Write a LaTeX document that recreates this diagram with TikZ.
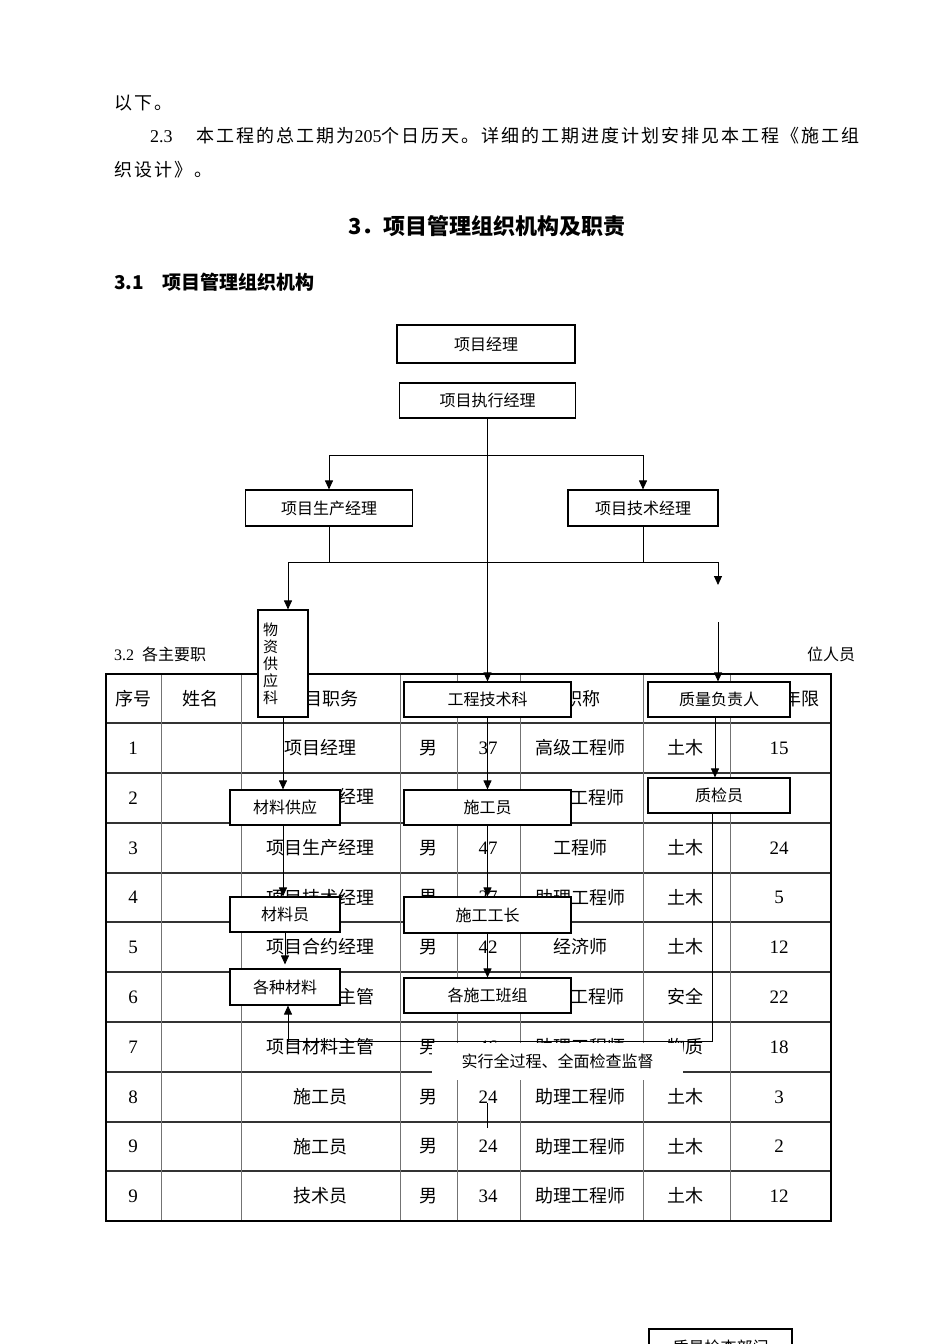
\documentclass[tikz,border=0pt]{standalone}
\usepackage{fontspec}
\setmainfont{Liberation Serif}
\newfontfamily\cjk{Noto Sans CJK SC}
\newfontfamily\cjkwide{Noto Sans CJK SC}[LetterSpace=11]
\usetikzlibrary{arrows.meta, positioning}

\begin{document}
\begin{tikzpicture}[x=1pt, y=-1pt,
  box/.style={draw, line width=1.1pt, fill=white, inner sep=0pt,
    font=\cjk\fontsize{16}{18}\selectfont},
  link/.style={line width=0.9pt},
  arr/.style={link, -{Triangle[width=8pt,length=9pt]}},
  zh/.style={inner sep=0pt, font=\cjk\fontsize{18}{20}\selectfont},
  num/.style={inner sep=0pt, font=\fontsize{19}{21}\selectfont},
  body/.style={anchor=west, inner sep=0pt, font=\cjkwide\fontsize{18}{20}\selectfont},
  rowline/.style={black!80, line width=1.1pt},
  colline/.style={black!55, line width=0.8pt}]
  \useasboundingbox (0,0) rectangle (950,1344);
  \clip (0,0) rectangle (950,1344);

  % Text above the chart
  \node[body] (l1) at (114,103) {以下。};
  \node[body] (l2) at (150,136) {{\rmfamily 2.3}\hspace{24pt}本工程的总工期为{\rmfamily 205}个日历天。详细的工期进度计划安排见本工程《施工组};
  \node[body] (l3) at (114,170) {织设计》。};
  \node[font=\cjk\bfseries\fontsize{22}{24}\selectfont] (h3) at (487,226) {3．项目管理组织机构及职责};
  \node[body, font=\cjk\bfseries\fontsize{19}{21}\selectfont] (h31) at (114,282) {3.1\hspace{18pt}项目管理组织机构};
  \node[body, font=\cjk\fontsize{16}{18}\selectfont] (h32) at (114,654) {{\rmfamily 3.2}\hspace{8pt}各主要职};
  \node[body, font=\cjk\fontsize{16}{18}\selectfont] (h32r) at (807,654) {位人员};

  % Staff table
  \foreach \y in {723,773,823,873,922,972,1022,1072,1122,1171}
    \draw[rowline] (106,\y) -- (831,\y);
  \foreach \x in {161,241,400,457,520,643,730}
    \draw[colline] (\x,674) -- (\x,1221);
  \draw[line width=1.8pt] (106,674) rectangle (831,1221);

  \node[zh] (hd1) at (133,698.5) {序号};
  \node[zh] (hd2) at (200,698.5) {姓名};
  \node[zh] (hd3) at (322,698.5) {项目职务};
  \node[zh] (hd6) at (582,698.5) {职称};
  \node[zh] (hd8) at (801,698.5) {年限};
  \foreach \y/\n/\job/\sex/\age/\tit/\maj/\yr [count=\i] in {
      748/1/项目经理/男/37/高级工程师/土木/15,
      848/3/项目生产经理/男/47/工程师/土木/24,
      897.5/4/项目技术经理/男/27/助理工程师/土木/5,
      947/5/项目合约经理/男/42/经济师/土木/12,
      1047/7/项目材料主管/男/46/助理工程师/物质/18,
      1097/8/施工员/男/24/助理工程师/土木/3,
      1146.5/9/施工员/男/24/助理工程师/土木/2,
      1196/9/技术员/男/34/助理工程师/土木/12}{
    \node[num] (no\i) at (133,\y) {\n};
    \node[zh] (job\i) at (320,\y) {\job};
    \node[zh] (sex\i) at (428,\y) {\sex};
    \node[num] (age\i) at (488,\y) {\age};
    \node[zh] (tit\i) at (580,\y) {\tit};
    \node[zh] (maj\i) at (685,\y) {\maj};
    \node[num] (yr\i) at (779,\y) {\yr};
  }
  % rows partly under the chart
  \node[num] (noB) at (133,798) {2};
  \node[zh, anchor=east] (jobB) at (375,796) {经理};
  \node[zh, anchor=east] (titB) at (625,798) {工程师};
  \node[num] (noF) at (133,997) {6};
  \node[zh, anchor=east] (jobF) at (375,997) {主管};
  \node[zh, anchor=east] (titF) at (625,997) {工程师};
  \node[zh] (majF) at (685,997) {安全};
  \node[num] (yrF) at (779,997) {22};

  % Organisation chart
  \node[box, minimum width=178pt, minimum height=38pt] (pm) at (486,344) {项目经理};
  \node[box, minimum width=176pt, minimum height=35pt] (exec) at (487.5,400.5) {项目执行经理};
  \node[box, minimum width=167pt, minimum height=36pt] (prod) at (329,508) {项目生产经理};
  \node[box, minimum width=150pt, minimum height=36pt] (techm) at (643,508) {项目技术经理};
  \node[box, minimum width=50pt, minimum height=107pt, text width=40pt, align=left,
        font=\cjk\fontsize{15}{17}\selectfont] (supply) at (283,663.5) {物\\资\\供\\应\\科};
  \node[box, minimum width=167pt, minimum height=35pt] (techdept) at (487.5,699.5) {工程技术科};
  \node[box, minimum width=142pt, minimum height=35pt] (qlead) at (719,699.5) {质量负责人};
  \node[box, minimum width=110pt, minimum height=35pt] (matsup) at (285,807.5) {材料供应};
  \node[box, minimum width=167pt, minimum height=35pt] (worker) at (487.5,807.5) {施工员};
  \node[box, minimum width=142pt, minimum height=35pt] (qinsp) at (719,795.5) {质检员};
  \node[box, minimum width=110pt, minimum height=35pt] (matclerk) at (285,914.5) {材料员};
  \node[box, minimum width=167pt, minimum height=36pt] (foreman) at (487.5,915) {施工工长};
  \node[box, minimum width=110pt, minimum height=36pt] (mats) at (285,987) {各种材料};
  \node[box, minimum width=167pt, minimum height=35pt] (teams) at (487.5,995.5) {各施工班组};
  \node[box, minimum width=143pt, minimum height=36pt] (qdept) at (720.5,1347) {质量检查部门};

  \coordinate (bus1) at (487.5,455);
  \coordinate (bus2l) at (288,562);
  \coordinate (bus2r) at (718,562);
  \coordinate (qstop) at (718,585);
  \coordinate (qgo) at (718,622);
  \coordinate (fb) at (288,1041);
  \coordinate (tick) at (487,1103);

  \draw[arr] (exec) -- (techdept);
  \draw[arr] (bus1) -| (prod.north);
  \draw[arr] (bus1) -| (techm.north);
  \draw[link] (prod.south) -- (prod.south |- bus2l);
  \draw[link] (techm.south) -- (techm.south |- bus2r);
  \draw[link] (bus2l) -- (bus2r);
  \draw[arr] (bus2l) -- (bus2l |- supply.north);
  \draw[arr] (bus2r) -- (qstop);
  \draw[arr] (qgo) -- (qgo |- qlead.north);
  % material line
  \draw[arr] (supply.south) -- (supply.south |- matsup.north);
  \draw[arr] ([xshift=-2pt]matsup.south) -- ([xshift=-2pt]matsup.south |- matclerk.north);
  \draw[arr] (matclerk.south) -- ([yshift=4pt]mats.north);
  % works line
  \draw[arr] (techdept) -- (worker);
  \draw[arr] (worker) -- (foreman);
  \draw[arr] (foreman) -- (teams);
  % quality line
  \draw[arr] ([xshift=-4pt]qlead.south) -- ([xshift=-4pt]qlead.south |- qinsp.north);
  \draw[arr] ([xshift=-7pt]qinsp.south) |- (fb) -- (fb |- mats.south);
  \draw[link] (tick) -- ++(0,25);

  \node[fill=white, inner sep=0pt, minimum width=251pt, minimum height=37pt,
        font=\cjk\fontsize{16}{18}\selectfont] (note) at (557.5,1061.5) {实行全过程、全面检查监督};
\end{tikzpicture}
\end{document}
